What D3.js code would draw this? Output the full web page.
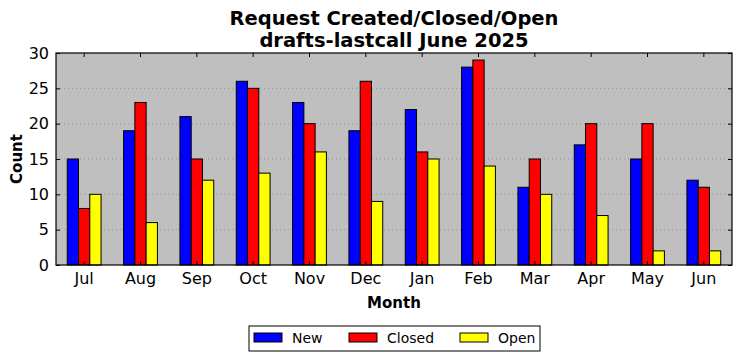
<!DOCTYPE html>
<html><head><meta charset="utf-8">
<script src="https://cdn.jsdelivr.net/npm/d3@7"></script>
<style>body{margin:0;background:#fff;} text{font-family:"DejaVu Sans",sans-serif;}</style>
</head><body>
<svg id="c" width="742" height="361"></svg>
<script>
const months = ["Jul","Aug","Sep","Oct","Nov","Dec","Jan","Feb","Mar","Apr","May","Jun"];
const seriesNames = ["New","Closed","Open"];
const seriesColors = ["#0000ff","#ff0000","#ffff00"];
const newVals = [15,19,21,26,23,19,22,28,11,17,15,12];
const closedVals = [8,23,15,25,20,26,16,29,15,20,20,11];
const openVals = [10,6,12,13,16,9,15,14,10,7,2,2];
const yTicks = [0,5,10,15,20,25,30];
const seriesVals = [newVals, closedVals, openVals];

const svg = d3.select("#c");
const L=56, R=732, T=53, B=265;
const x = d3.scaleBand().domain(months).range([L,R]).paddingInner(0).paddingOuter(0);
const y = d3.scaleLinear().domain([0,30]).range([B,T]);
const bw = x.bandwidth()*0.2;

svg.append("rect").attr("x",L).attr("y",T).attr("width",R-L).attr("height",B-T).attr("fill","#bfbfbf");

// grid
svg.append("g").selectAll("line").data(yTicks.slice(1,-1)).join("line")
  .attr("x1",L).attr("x2",R).attr("y1",d=>y(d)).attr("y2",d=>y(d))
  .attr("stroke","#8c8c8c").attr("stroke-width",0.8).attr("stroke-dasharray","1,3");

// bars
seriesVals.forEach((vals,si)=>{
  svg.append("g").selectAll("rect").data(vals).join("rect")
    .attr("x",(d,i)=>x(months[i])+x.bandwidth()/2-1.5*bw+si*bw)
    .attr("y",d=>y(d)).attr("width",bw).attr("height",d=>y(0)-y(d))
    .attr("fill",seriesColors[si]).attr("stroke","#000").attr("stroke-width",1);
});

// axes
const axL = d3.axisLeft(y).tickValues(yTicks).tickSizeInner(-4).tickSizeOuter(0).tickPadding(7);
const gL = svg.append("g").attr("transform",`translate(${L},0)`).call(axL);
gL.select(".domain").remove();
gL.selectAll("text").attr("font-size",16).attr("fill","#000").attr("font-family","DejaVu Sans");
const axR = d3.axisRight(y).tickValues(yTicks).tickSizeInner(-4).tickSizeOuter(0).tickFormat("");
const gR = svg.append("g").attr("transform",`translate(${R},0)`).call(axR);
gR.select(".domain").remove();
const axB = d3.axisBottom(x).tickSizeInner(-4).tickSizeOuter(0).tickPadding(8);
const gB = svg.append("g").attr("transform",`translate(0,${B})`).call(axB);
gB.select(".domain").remove();
gB.selectAll("text").attr("font-size",16).attr("fill","#000").attr("font-family","DejaVu Sans");
const axT = d3.axisTop(x).tickSizeInner(-4).tickSizeOuter(0).tickFormat("");
const gT = svg.append("g").attr("transform",`translate(0,${T})`).call(axT);
gT.select(".domain").remove();

svg.append("rect").attr("x",L).attr("y",T).attr("width",R-L).attr("height",B-T)
  .attr("fill","none").attr("stroke","#000").attr("stroke-width",1.2);

// titles
svg.append("text").attr("x",(L+R)/2).attr("y",25).attr("text-anchor","middle")
  .attr("font-size",19.5).attr("font-weight","bold").text("Request Created/Closed/Open");
svg.append("text").attr("x",(L+R)/2).attr("y",47).attr("text-anchor","middle")
  .attr("font-size",19.5).attr("font-weight","bold").text("drafts-lastcall June 2025");
svg.append("text").attr("x",(L+R)/2).attr("y",308).attr("text-anchor","middle")
  .attr("font-size",15).attr("font-weight","bold").text("Month");
svg.append("text").attr("transform",`translate(22,${(T+B)/2}) rotate(-90)`).attr("text-anchor","middle")
  .attr("font-size",15).attr("font-weight","bold").text("Count");

// legend
const lg = svg.append("g");
lg.append("rect").attr("x",249).attr("y",326).attr("width",291).attr("height",25)
  .attr("fill","#fff").attr("stroke","#000").attr("stroke-width",1);
const lx = [254,349,460];
seriesNames.forEach((n,i)=>{
  lg.append("rect").attr("x",lx[i]).attr("y",333).attr("width",28).attr("height",9)
    .attr("fill",seriesColors[i]).attr("stroke","#000").attr("stroke-width",1);
  lg.append("text").attr("x",lx[i]+38).attr("y",343).attr("font-size",14).text(n);
});
</script>
</body></html>
